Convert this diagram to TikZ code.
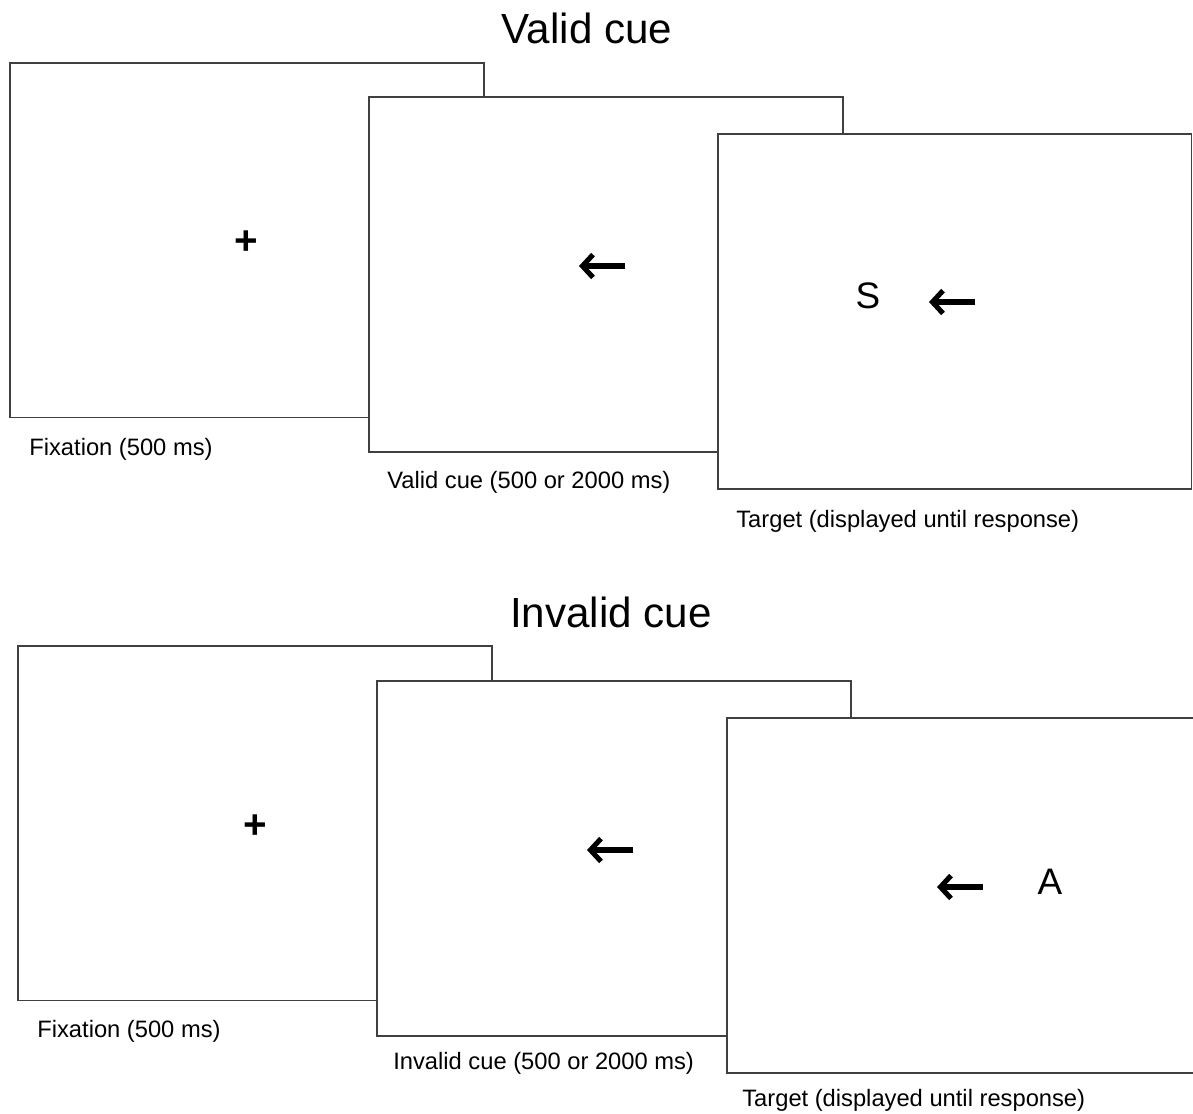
\documentclass[tikz,border=0pt]{standalone}
\usepackage{fontspec}
\setmainfont{Liberation Sans}
\usetikzlibrary{
arrows.meta,
positioning,
}
\tikzset{
screen/.style={rectangle, draw=black!75, line width=1.1pt, fill=white,
  minimum width=9.48cm, minimum height=7.1cm, inner sep=0pt},
caption/.style={anchor=base west, inner sep=0pt, font=\fontsize{13.5}{16}\selectfont},
heading/.style={anchor=base, inner sep=0pt, font=\fontsize{24}{28}\selectfont},
stim/.style={inner sep=0pt, font=\fontsize{21}{24}\selectfont},
fixation/.style={inner sep=0pt, font=\bfseries\fontsize{23}{26}\selectfont},
cue/.style={line width=2.9pt, -{Straight Barb[length=6pt,width=13pt]}},
}

\begin{document}
\begin{tikzpicture}[x=0.02cm, y=-0.02cm]
    \useasboundingbox (0,0) rectangle (1193,1113);
    \clip (0,0) rectangle (1193,1113);

    % valid cue trial
    \node [heading] (vtitle) at (587,43) {Valid cue};
    \node [screen] (v1) at (247,240) {};
    \node [screen] (v2) at (606,274.5) {};
    \node [screen] (v3) at (954.5,311.5) {};

    \node [fixation] (vfix) at (246,243) {+};
    \coordinate (v2tail) at (625,266);
    \coordinate (v2head) at (579,266);
    \draw [cue] (v2tail) -- (v2head);
    \node [stim] (vS) at (868,296) {S};
    \coordinate (v3tail) at (975,302);
    \coordinate (v3head) at (929,302);
    \draw [cue] (v3tail) -- (v3head);

    \node [caption] (vc1) at (29,455) {Fixation (500 ms)};
    \node [caption] (vc2) at (387,488) {Valid cue (500 or 2000 ms)};
    \node [caption] (vc3) at (736,527) {Target (displayed until response)};

    % invalid cue trial
    \node [heading] (ititle) at (611,627) {Invalid cue};
    \node [screen] (i1) at (255,823) {};
    \node [screen] (i2) at (614,858.5) {};
    \node [screen] (i3) at (964,895.5) {};

    \node [fixation] (ifix) at (255,827) {+};
    \coordinate (i2tail) at (633,850);
    \coordinate (i2head) at (587,850);
    \draw [cue] (i2tail) -- (i2head);
    \coordinate (i3tail) at (983,887);
    \coordinate (i3head) at (937,887);
    \draw [cue] (i3tail) -- (i3head);
    \node [stim] (iA) at (1050,882) {A};

    \node [caption] (ic1) at (37,1037) {Fixation (500 ms)};
    \node [caption] (ic2) at (393,1069) {Invalid cue (500 or 2000 ms)};
    \node [caption] (ic3) at (742,1106) {Target (displayed until response)};
\end{tikzpicture}
\end{document}
